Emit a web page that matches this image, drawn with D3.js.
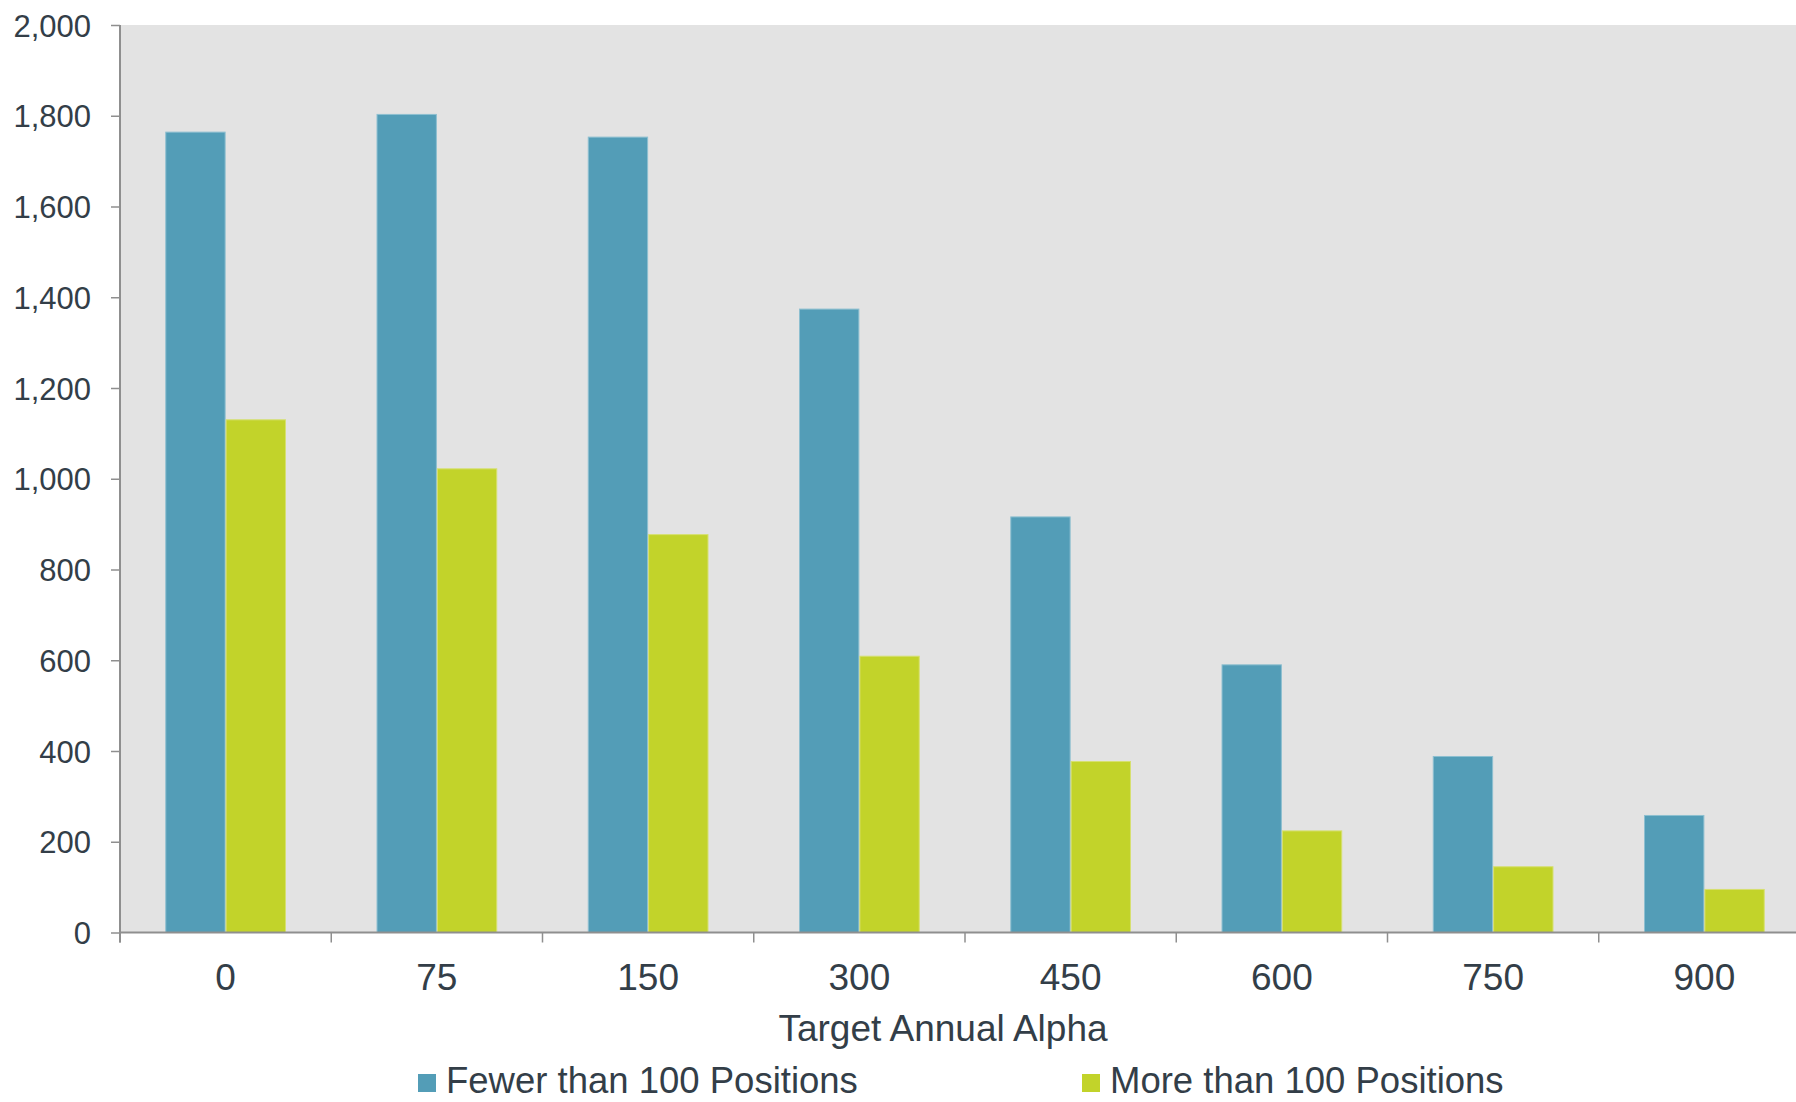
<!DOCTYPE html>
<html>
<head>
<meta charset="utf-8">
<script src="https://cdn.jsdelivr.net/npm/d3@7"></script>
<style>
  html, body { margin: 0; padding: 0; background: #ffffff; }
  svg { display: block; font-family: "Liberation Sans", Arial, sans-serif; }
</style>
</head>
<body>
<svg id="chart" width="1796" height="1102"></svg>
<script>
// Target annual alpha buckets (bps)
const categories = ["0", "75", "150", "300", "450", "600", "750", "900"];
const seriesNames = ["Fewer than 100 Positions", "More than 100 Positions"];
const fewerThan100 = [1765, 1804, 1754, 1375, 917, 591, 389, 259];
const moreThan100  = [1131, 1023, 878, 610, 378, 225, 146, 96];
const yTicks = [0, 200, 400, 600, 800, 1000, 1200, 1400, 1600, 1800, 2000];
const seriesColors = ["#539db7", "#c2d32a"];
const seriesEdges  = ["#8dbfd0", "#d6e070"];

(function drawChart() {
  const svg = d3.select("#chart");
  const W = 1796;
  const plotLeft = 120, plotTop = 25, plotBottom = 932.5, plotRight = 1810;
  const textColor = "#333e48";
  const axisColor = "#8f8f8f";

  const rows = categories.map((c, i) => ({ cat: c, values: [fewerThan100[i], moreThan100[i]] }));

  const x0 = d3.scaleBand().domain(categories).range([plotLeft, plotRight]).paddingInner(0).paddingOuter(0);
  const x1 = d3.scaleBand().domain(d3.range(seriesNames.length)).range([0, x0.bandwidth()])
    .paddingInner(0).paddingOuter(0.75);
  const y = d3.scaleLinear().domain([0, 2000]).range([plotBottom, plotTop]);

  // plot background
  svg.append("rect")
    .attr("x", plotLeft).attr("y", plotTop)
    .attr("width", W - plotLeft).attr("height", plotBottom - plotTop)
    .attr("fill", "#e3e3e3");

  // grouped bars
  const groups = svg.append("g").selectAll("g").data(rows).join("g")
    .attr("transform", d => `translate(${x0(d.cat)},0)`);
  groups.selectAll("rect").data(d => d.values.map((v, k) => ({ v, k }))).join("rect")
    .attr("x", d => x1(d.k) + 0.5)
    .attr("y", d => y(d.v) + 0.5)
    .attr("width", x1.bandwidth() - 1)
    .attr("height", d => y(0) - y(d.v) - 0.5)
    .attr("fill", d => seriesColors[d.k])
    .attr("stroke", d => seriesEdges[d.k])
    .attr("stroke-width", 1);

  // y axis
  const yAxis = svg.append("g")
    .attr("transform", `translate(${plotLeft},0)`)
    .call(d3.axisLeft(y).tickValues(yTicks).tickFormat(d3.format(",")).tickSize(9).tickPadding(20));
  yAxis.select(".domain").attr("stroke", axisColor).attr("stroke-width", 2)
    .attr("d", `M0,${plotTop}V${plotBottom + 10}`);
  yAxis.selectAll(".tick line").attr("stroke", axisColor).attr("stroke-width", 1.5);
  yAxis.selectAll(".tick text")
    .attr("fill", textColor).attr("font-size", 31).attr("dy", "0.36em")
    .style("font-family", "'Liberation Sans', Arial, sans-serif");

  // x axis: ticks at category boundaries
  const boundaries = categories.map(c => x0(c)).concat([plotRight]);
  const xAxis = svg.append("g");
  xAxis.append("line")
    .attr("x1", plotLeft).attr("x2", W).attr("y1", plotBottom).attr("y2", plotBottom)
    .attr("stroke", axisColor).attr("stroke-width", 2);
  xAxis.selectAll("line.tk").data(boundaries).join("line").attr("class", "tk")
    .attr("x1", d => d).attr("x2", d => d)
    .attr("y1", plotBottom).attr("y2", plotBottom + 10)
    .attr("stroke", axisColor).attr("stroke-width", 1.5);
  xAxis.selectAll("text").data(categories).join("text")
    .attr("x", d => x0(d) + x0.bandwidth() / 2)
    .attr("y", 990)
    .attr("text-anchor", "middle")
    .attr("font-size", 37)
    .attr("fill", textColor)
    .text(d => d);

  // axis title
  svg.append("text")
    .attr("x", 943).attr("y", 1041)
    .attr("text-anchor", "middle")
    .attr("font-size", 37)
    .attr("fill", textColor)
    .text("Target Annual Alpha");

  // legend
  const legendX = [418, 1082];
  const legend = svg.append("g").selectAll("g").data(seriesNames).join("g")
    .attr("transform", (d, i) => `translate(${legendX[i]},0)`);
  legend.append("rect")
    .attr("x", 0).attr("y", 1074).attr("width", 18).attr("height", 18)
    .attr("fill", (d, i) => seriesColors[i]);
  legend.append("text")
    .attr("x", 28).attr("y", 1093)
    .attr("font-size", 36.5)
    .attr("fill", textColor)
    .text(d => d);
})();
</script>
</body>
</html>
